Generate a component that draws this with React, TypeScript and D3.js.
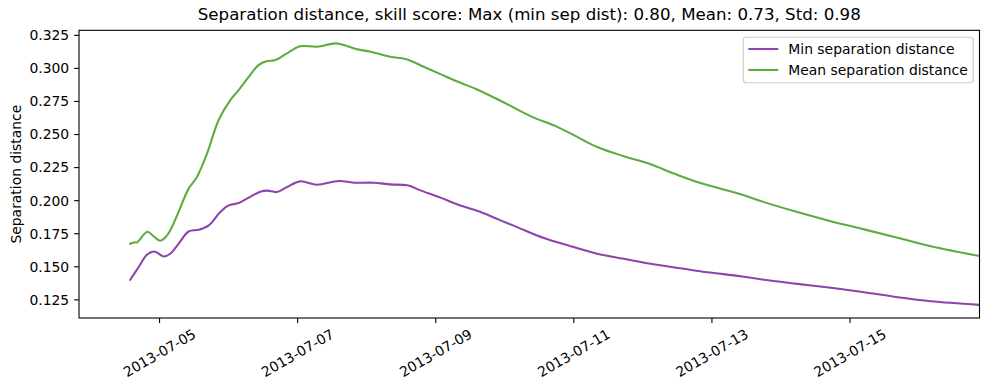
import React from "react";
import * as d3 from "d3";

// Time offsets are hours since 2013-07-04T00:00 UTC
const minHours = [13.8, 16.7, 19.6, 21.9, 23.1, 25.4, 27.7, 30.6, 34.1, 37.6, 41.1, 45.1, 48.0, 51.5, 55.0, 59.0, 61.4, 64.8, 68.3, 72.9, 78.7, 86.3, 91.5, 98.4, 104.2, 110.1, 114.7, 121.6, 128.6, 135.6, 142.5, 148.3, 157.6, 166.9, 176.1, 185.4, 194.7, 206.3, 214.4, 226.0, 234.1, 245.7, 257.3, 268.9, 280.5, 292.1, 309.0];
const minValues = [0.1402, 0.1497, 0.1591, 0.1616, 0.1608, 0.1578, 0.1599, 0.1674, 0.1767, 0.1780, 0.1813, 0.1914, 0.1964, 0.1982, 0.2023, 0.2068, 0.2076, 0.2065, 0.2103, 0.2146, 0.2121, 0.2149, 0.2136, 0.2136, 0.2123, 0.2116, 0.2078, 0.2023, 0.1964, 0.1914, 0.1851, 0.1800, 0.1717, 0.1656, 0.1599, 0.1561, 0.1523, 0.1485, 0.1459, 0.1429, 0.1402, 0.1371, 0.1341, 0.1308, 0.1270, 0.1239, 0.1212];

const meanHours = [13.8, 15.5, 16.1, 19.8, 21.8, 24.2, 26.0, 27.7, 30.6, 34.1, 37.0, 40.5, 44.5, 48.6, 51.5, 55.0, 58.4, 61.4, 64.2, 68.3, 72.9, 78.7, 85.1, 88.0, 92.7, 97.3, 104.2, 110.1, 115.8, 121.6, 128.6, 134.4, 142.5, 145.5, 152.9, 162.2, 168.0, 176.1, 185.4, 194.7, 202.8, 210.9, 226.0, 234.1, 245.7, 257.3, 268.9, 280.5, 292.1, 309.0];
const meanValues = [0.1674, 0.1686, 0.1684, 0.1765, 0.1733, 0.1697, 0.1722, 0.1775, 0.1914, 0.2091, 0.2179, 0.2356, 0.2608, 0.2760, 0.2836, 0.2936, 0.3025, 0.3055, 0.3063, 0.3114, 0.3167, 0.3164, 0.3189, 0.3177, 0.3144, 0.3126, 0.3088, 0.3068, 0.3012, 0.2957, 0.2891, 0.2841, 0.2755, 0.2722, 0.2639, 0.2558, 0.2495, 0.2406, 0.2336, 0.2275, 0.2205, 0.2141, 0.2048, 0.1989, 0.1914, 0.1845, 0.1783, 0.1720, 0.1656, 0.1582];

const xTickLabels = ["2013-07-05", "2013-07-07", "2013-07-09", "2013-07-11", "2013-07-13", "2013-07-15"];
const yTickValues = [0.125, 0.15, 0.175, 0.2, 0.225, 0.25, 0.275, 0.3, 0.325];

const seriesNames = ["Min separation distance", "Mean separation distance"];
const seriesColors = ["#8e44ad", "#5fab3d"];
const title = "Separation distance, skill score: Max (min sep dist): 0.80, Mean: 0.73, Std: 0.98";
const yLabel = "Separation distance";

const BASE = Date.UTC(2013, 6, 4, 0, 0);
const toDate = (h: number) => new Date(BASE + h * 3600 * 1000);
const parseDay = (s: string) => {
  const [y, m, d] = s.split("-").map(Number);
  return new Date(Date.UTC(y, m - 1, d));
};

export default function App() {
  const W = 990, H = 390;
  const left = 79, right = 979.5, top = 30.3, bottom = 318;
  const x = d3.scaleUtc().domain([toDate(-4), toDate(309)]).range([left, right]);
  const y = d3.scaleLinear().domain([0.1113, 0.3288]).range([bottom, top]);
  const font = "'DejaVu Sans', sans-serif";

  const line = d3
    .line<[number, number]>()
    .x((d) => x(toDate(d[0])))
    .y((d) => y(d[1]))
    .curve(d3.curveCatmullRom.alpha(0.5));

  const minPts = minHours.map((h, i) => [h, minValues[i]] as [number, number]);
  const meanPts = meanHours.map((h, i) => [h, meanValues[i]] as [number, number]);
  const fmt = d3.format(".3f");

  return (
    <svg width={W} height={H} style={{ position: "absolute", left: 0, top: 0, background: "#fff" }} fontFamily={font}>
      <rect x={0} y={0} width={W} height={H} fill="#fff" />
      <defs>
        <clipPath id="plotclip">
          <rect x={left} y={top} width={right - left} height={bottom - top} />
        </clipPath>
      </defs>
      <g clipPath="url(#plotclip)">
        <path d={line(minPts) || ""} fill="none" stroke={seriesColors[0]} strokeWidth={2.08} strokeLinejoin="round" strokeLinecap="square" />
        <path d={line(meanPts) || ""} fill="none" stroke={seriesColors[1]} strokeWidth={2.08} strokeLinejoin="round" strokeLinecap="square" />
      </g>
      {/* frame */}
      <rect x={left} y={top} width={right - left} height={bottom - top} fill="none" stroke="#000" strokeWidth={1.1} />
      {/* y ticks */}
      {yTickValues.map((v) => (
        <g key={v}>
          <line x1={left - 4.9} x2={left} y1={y(v)} y2={y(v)} stroke="#000" strokeWidth={1.1} />
          <text x={left - 9.8} y={y(v)} dy="0.35em" textAnchor="end" fontSize={13.9} fill="#000">
            {fmt(v)}
          </text>
        </g>
      ))}
      {/* x ticks */}
      {xTickLabels.map((s) => {
        const px = x(parseDay(s));
        const cy = 353;
        return (
          <g key={s}>
            <line x1={px} x2={px} y1={bottom} y2={bottom + 4.9} stroke="#000" strokeWidth={1.1} />
            <text
              x={px}
              y={cy}
              dy="0.35em"
              textAnchor="middle"
              fontSize={13.9}
              fill="#000"
              transform={`rotate(-30 ${px} ${cy})`}
            >
              {s}
            </text>
          </g>
        );
      })}
      {/* y label */}
      <text
        x={21}
        y={(top + bottom) / 2}
        textAnchor="middle"
        fontSize={13.9}
        fill="#000"
        transform={`rotate(-90 21 ${(top + bottom) / 2})`}
      >
        {yLabel}
      </text>
      {/* title */}
      <text x={(left + right) / 2} y={19.5} textAnchor="middle" fontSize={16.67} fill="#000">
        {title}
      </text>
      {/* legend */}
      <g>
        <rect x={743.3} y={37.3} width={230} height={45.4} rx={3} ry={3} fill="#fff" fillOpacity={0.8} stroke="#cccccc" strokeWidth={1.1} />
        {seriesNames.map((n, i) => {
          const ly = 49 + i * 21;
          return (
            <g key={n}>
              <line x1={748.3} x2={778.3} y1={ly} y2={ly} stroke={seriesColors[i]} strokeWidth={2.08} />
              <text x={788.3} y={ly} dy="0.35em" fontSize={13.9} fill="#000">
                {n}
              </text>
            </g>
          );
        })}
      </g>
    </svg>
  );
}
